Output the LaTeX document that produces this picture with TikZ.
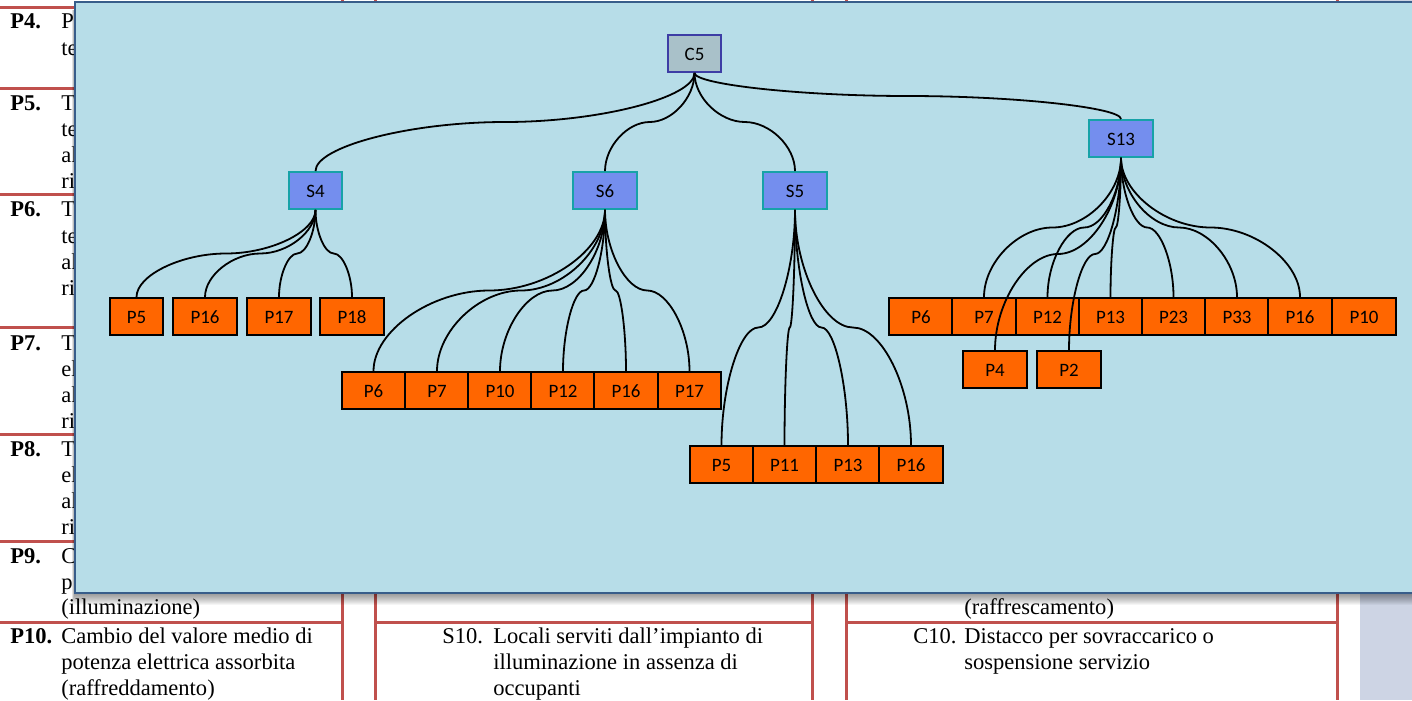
\documentclass[tikz,border=0pt]{standalone}
\usepackage{fontspec}
\setmainfont{Liberation Serif}
\newfontfamily\boxfont{Carlito}
\usetikzlibrary{calc}
\definecolor{tablered}{HTML}{C0504D}
\definecolor{bandblue}{HTML}{CDD4E4}
\definecolor{panelfill}{HTML}{B7DDE8}
\definecolor{paneledge}{HTML}{385D8A}
\definecolor{cfill}{HTML}{A9C1C9}
\definecolor{cedge}{HTML}{3D3DA5}
\definecolor{sfill}{HTML}{748EEE}
\definecolor{sedge}{HTML}{17A2A8}
\definecolor{pfill}{HTML}{FF6600}
\tikzset{
  tline/.style={draw=tablered,line width=2.25pt},
  body/.style={anchor=base west,inner sep=0pt,font=\fontsize{16.9}{20}\selectfont},
  lab/.style={body,font=\fontsize{16.9}{20}\selectfont\bfseries},
  boxbase/.style={anchor=center,inner sep=0pt,minimum height=27.75pt,text height=10.4pt,text depth=0pt,font=\boxfont\fontsize{14.2}{16}\selectfont},
  cbox/.style={boxbase,draw=cedge,fill=cfill,line width=1.4pt,minimum width=39.75pt},
  sbox/.style={boxbase,draw=sedge,fill=sfill,line width=1.4pt,minimum width=48pt},
  sboxn/.style={sbox,minimum width=39.75pt},
  pbox/.style={boxbase,draw=black,fill=pfill,line width=1.4pt,minimum width=47.6pt},
  pboxn/.style={pbox,minimum width=39.75pt},
  link/.style={draw=black,line width=1.35pt}
}
\newcommand{\conn}[2]{%
  \draw[link] let \p1=(#1.south),\p2=(#2.north) in
    (\p1) .. controls (\x1,{0.75*\y1+0.25*\y2}) and ({0.75*\x1+0.25*\x2},{0.5*\y1+0.5*\y2})
    .. ({0.5*\x1+0.5*\x2},{0.5*\y1+0.5*\y2})
    .. controls ({0.25*\x1+0.75*\x2},{0.5*\y1+0.5*\y2}) and (\x2,{0.25*\y1+0.75*\y2}) .. (\p2);}
\begin{document}
\begin{tikzpicture}[x=0.75pt,y=-0.75pt]
\useasboundingbox (0,0) rectangle (1412,700);
\clip (0,0) rectangle (1412,700);
\fill[white] (0,0) rectangle (1412,700);
\fill[bandblue] (1360,0) rectangle (1412,700);
% table rules
\foreach \yy in {7.5,88.5,194,327,434,541,622} \draw[tline] (0,\yy) -- (342,\yy);
\draw[tline] (375,622) -- (812,622);
\draw[tline] (846,622) -- (1337,622);
\foreach \xx in {342,375,812,846,1337} \draw[tline] (\xx,0) -- (\xx,700);
% table text
\node[lab] (l4) at (10,28) {P4.};
\node[body] (t4a) at (61,28) {P};
\node[body] (t4b) at (61,55) {te};
\node[lab] (l5) at (10,110) {P5.};
\node[body] (t5a) at (61,110) {T};
\node[body] (t5b) at (61,136) {te};
\node[body] (t5c) at (61,162) {al};
\node[body] (t5d) at (61,188) {ri};
\node[lab] (l6) at (10,216) {P6.};
\node[body] (t6a) at (61,216) {T};
\node[body] (t6b) at (61,243) {te};
\node[body] (t6c) at (61,269) {al};
\node[body] (t6d) at (61,295) {ri};
\node[lab] (l7) at (10,350) {P7.};
\node[body] (t7a) at (61,350) {T};
\node[body] (t7b) at (61,376) {el};
\node[body] (t7c) at (61,402) {al};
\node[body] (t7d) at (61,428) {ri};
\node[lab] (l8) at (10,456) {P8.};
\node[body] (t8a) at (61,456) {T};
\node[body] (t8b) at (61,482) {el};
\node[body] (t8c) at (61,508) {al};
\node[body] (t8d) at (61,534) {ri};
\node[lab] (l9) at (10,563) {P9.};
\node[body] (t9a) at (61,563) {C};
\node[body] (t9b) at (61,589) {p};
\node[body] (t9c) at (61,614) {(illuminazione)};
\node[lab] (l10) at (10,643) {P10.};
\node[body] (t10a) at (61,643) {Cambio del valore medio di};
\node[body] (t10b) at (61,669) {potenza elettrica assorbita};
\node[body] (t10c) at (61,695) {(raffreddamento)};
\node[body] (s10l) at (442,643) {S10.};
\node[body] (s10a) at (493,643) {Locali serviti dall’impianto di};
\node[body] (s10b) at (493,669) {illuminazione in assenza di};
\node[body] (s10c) at (493,695) {occupanti};
\node[body] (c9c) at (964,614) {(raffrescamento)};
\node[body] (c10l) at (913,643) {C10.};
\node[body] (c10a) at (964,643) {Distacco per sovraccarico o};
\node[body] (c10b) at (964,669) {sospensione servizio};
% panel shadow
\foreach \i in {1,...,13}
  \fill[black,opacity=0.04] ({75-\i/4},10) rectangle (1420,{592+\i});
% panel
\fill[panelfill,draw=paneledge,line width=1.5pt] (75,2) rectangle (1420,592.5);
% nodes
\node[cbox] (C5) at (694.5,53.5) {C5};
\node[sboxn] (S4) at (315.5,190.5) {S4};
\node[sbox] (S6) at (605,190.5) {S6};
\node[sbox] (S5) at (795,190.5) {S5};
\node[sbox] (S13) at (1121,138.5) {S13};
\node[pboxn] (a5) at (136.5,316.5) {P5};
\node[pbox] (a16) at (205,316.5) {P16};
\node[pbox] (a17) at (279,316.5) {P17};
\node[pbox] (a18) at (352,316.5) {P18};
\node[pbox] (b6) at (373.5,390.5) {P6};
\node[pbox] (b7) at (437,390.5) {P7};
\node[pbox] (b10) at (500,390.5) {P10};
\node[pbox] (b12) at (563,390.5) {P12};
\node[pbox] (b16) at (626,390.5) {P16};
\node[pbox] (b17) at (689.5,390.5) {P17};
\node[pbox] (d5) at (721.5,464.5) {P5};
\node[pbox] (d11) at (784.5,464.5) {P11};
\node[pbox] (d13) at (848,464.5) {P13};
\node[pbox] (d16) at (911,464.5) {P16};
\node[pbox] (e6) at (921,316.5) {P6};
\node[pbox] (e7) at (984,316.5) {P7};
\node[pbox] (e12) at (1047.5,316.5) {P12};
\node[pbox] (e13) at (1110.5,316.5) {P13};
\node[pbox] (e23) at (1173.5,316.5) {P23};
\node[pbox] (e33) at (1237,316.5) {P33};
\node[pbox] (e16) at (1300,316.5) {P16};
\node[pbox] (e10) at (1364,316.5) {P10};
\node[pbox] (f4) at (995,369.5) {P4};
\node[pbox] (f2) at (1069,369.5) {P2};
% connectors
\foreach \c in {S4,S6,S5,S13} {\conn{C5}{\c}}
\foreach \c in {a5,a16,a17,a18} {\conn{S4}{\c}}
\foreach \c in {b6,b7,b10,b12,b16,b17} {\conn{S6}{\c}}
\foreach \c in {d5,d11,d13,d16} {\conn{S5}{\c}}
\foreach \c in {e7,e12,e13,e23,e33,e16,f4,f2} {\conn{S13}{\c}}
\end{tikzpicture}
\end{document}
